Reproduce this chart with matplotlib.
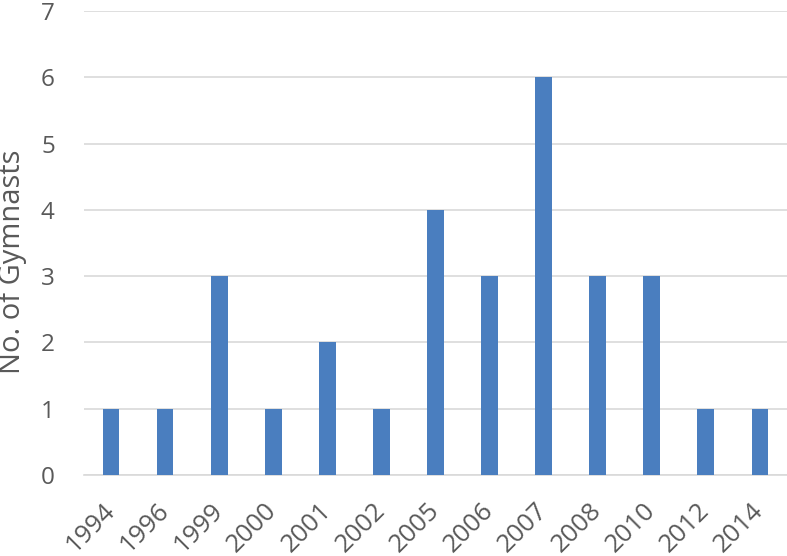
import matplotlib.pyplot as plt

plt.rcParams["font.family"] = ["Open Sans", "DejaVu Sans"]

# Datos del grafico
years = ["1994", "1996", "1999", "2000", "2001", "2002", "2005",
         "2006", "2007", "2008", "2010", "2012", "2014"]
gymnasts = [1, 1, 3, 1, 2, 1, 4, 3, 6, 3, 3, 1, 1]

text_color = "#595959"
bar_color = "#4A7EBF"
grid_color = "#D9D9D9"

fig = plt.figure(figsize=(7.87, 5.56), dpi=100)
ax = fig.add_axes([0.1067, 0.1457, 0.8933, 0.8343])

pos = list(range(len(years)))
ax.bar(pos, gymnasts, width=0.31, color=bar_color, zorder=3)

ax.set_xlim(-0.5, len(years) - 0.5)
ax.set_ylim(0, 7)
ax.set_yticks(range(0, 8))
ax.yaxis.grid(True, color=grid_color, linewidth=1.2, zorder=0)

ax.set_xticks(pos)
ax.set_xticklabels(years, rotation=45, ha="right", va="center",
                   rotation_mode="anchor", fontsize=18.5)
ax.tick_params(axis="both", length=0, labelcolor=text_color)
ax.tick_params(axis="y", pad=21, labelsize=17.5)
ax.tick_params(axis="x", pad=23)

for side in ["top", "right", "left"]:
    ax.spines[side].set_visible(False)
ax.spines["bottom"].set_color(grid_color)
ax.spines["bottom"].set_linewidth(1.2)

# Etiqueta del eje y
ax.set_ylabel("No. of Gymnasts", fontsize=21, color=text_color)
ax.yaxis.label.set_verticalalignment("center")
ax.yaxis.set_label_coords(-0.101, 0.459)

fig.savefig("out.png", dpi=100)
